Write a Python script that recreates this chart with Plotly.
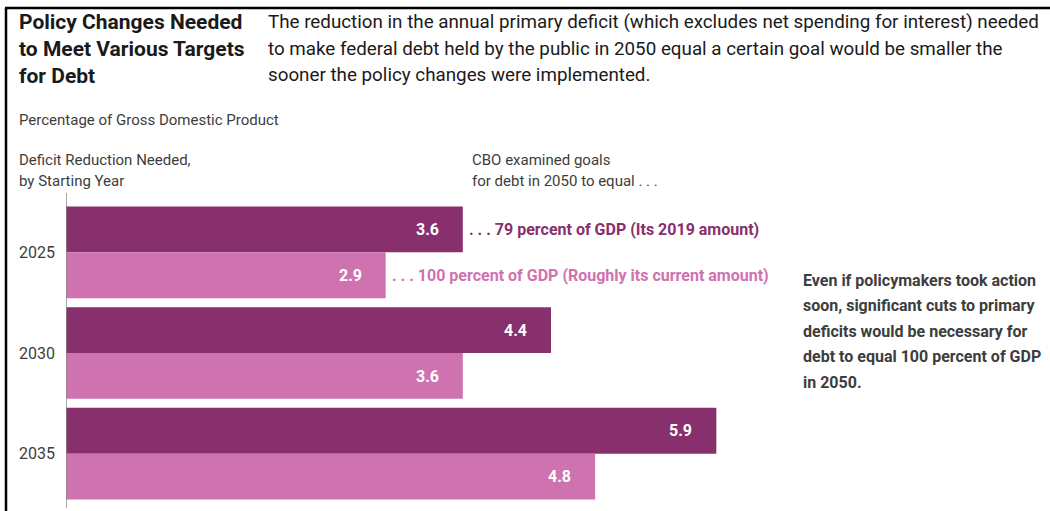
import plotly.graph_objects as go

# Data: deficit reduction needed (percentage of GDP), by starting year
years = ["2025", "2030", "2035"]
goal_79 = [3.6, 4.4, 5.9]    # debt in 2050 equal to 79 percent of GDP
goal_100 = [2.9, 3.6, 4.8]   # debt in 2050 equal to 100 percent of GDP

DARK = "#87306d"
LIGHT = "#cf72b0"
TEXT = "#3d3d3d"
FONT = "Roboto, Arial, sans-serif"

W, H = 1050, 511
ML, MR, MT, MB = 66, 14, 202, 7
pw, ph = W - ML - MR, H - MT - MB


def px(x):
    """Horizontal pixel position -> paper fraction."""
    return (x - ML) / pw


def py(y):
    """Vertical pixel position from the top -> paper fraction."""
    return (H - y - MB) / ph


fig = go.Figure()
fig.add_trace(go.Bar(y=years, x=goal_79, orientation="h", marker=dict(color=DARK, line=dict(width=0)),
                     name="79 percent of GDP", hoverinfo="skip"))
fig.add_trace(go.Bar(y=years, x=goal_100, orientation="h", marker=dict(color=LIGHT, line=dict(width=0)),
                     name="100 percent of GDP", hoverinfo="skip"))

annotations = []
# value labels inside the bar ends
for i, (a, b) in enumerate(zip(goal_79, goal_100)):
    annotations.append(dict(x=a, y=i, xref="x", yref="y", text=f"<b>{a:.1f}</b>", showarrow=False,
                            xanchor="right", xshift=-22, yshift=23,
                            font=dict(family=FONT, size=16, color="white")))
    annotations.append(dict(x=b, y=i, xref="x", yref="y", text=f"<b>{b:.1f}</b>", showarrow=False,
                            xanchor="right", xshift=-22, yshift=-23,
                            font=dict(family=FONT, size=16, color="white")))

# goal labels beside the 2025 bars
annotations.append(dict(x=goal_79[0], y=0, xref="x", yref="y", text="<b>. . . 79 percent of GDP (Its 2019 amount)</b>",
                        showarrow=False, xanchor="left", xshift=4, yshift=23,
                        font=dict(family=FONT, size=16, color=DARK)))
annotations.append(dict(x=goal_100[0], y=0, xref="x", yref="y",
                        text="<b>. . . 100 percent of GDP (Roughly its current amount)</b>",
                        showarrow=False, xanchor="left", xshift=4, yshift=-23,
                        font=dict(family=FONT, size=16, color=LIGHT)))


def text_block(x, y, lines, size, color, bold=False, step=None):
    """Left-aligned lines of text; y is the centre of the first line in pixels."""
    step = step or size * 1.3
    out = []
    for k, line in enumerate(lines):
        t = f"<b>{line}</b>" if bold else line
        out.append(dict(x=px(x), y=py(y + k * step), xref="paper", yref="paper", text=t,
                        showarrow=False, xanchor="left", yanchor="middle", align="left",
                        font=dict(family=FONT, size=size, color=color)))
    return out


annotations += text_block(17, 22, ["Policy Changes Needed", "to Meet Various Targets", "for Debt"],
                          21, "#1a1a1a", bold=True, step=27)
annotations += text_block(266, 22, [
    "The reduction in the annual primary deficit (which excludes net spending for interest) needed",
    "to make federal debt held by the public in 2050 equal a certain goal would be smaller the",
    "sooner the policy changes were implemented.",
], 18.8, "#1a1a1a", step=26.5)
annotations += text_block(17, 120, ["Percentage of Gross Domestic Product"], 15, TEXT)
annotations += text_block(17, 160, ["Deficit Reduction Needed,", "by Starting Year"], 15, TEXT, step=21)
annotations += text_block(470, 160, ["CBO examined goals", "for debt in 2050 to equal . . ."], 15, TEXT, step=21)
annotations += text_block(801, 280, [
    "Even if policymakers took action",
    "soon, significant cuts to primary",
    "deficits would be necessary for",
    "debt to equal 100 percent of GDP",
    "in 2050.",
], 16, TEXT, bold=True, step=25.5)

fig.update_layout(
    width=W, height=H,
    margin=dict(l=ML, r=MR, t=MT, b=MB, pad=0),
    barmode="group", bargap=0.09, bargroupgap=0.0,
    plot_bgcolor="white", paper_bgcolor="white",
    showlegend=False,
    annotations=annotations,
    xaxis=dict(range=[0, 8.8], visible=False, fixedrange=True),
    yaxis=dict(autorange="reversed", showgrid=False, zeroline=False, showline=False,
               ticks="", ticklabelstandoff=10,
               tickfont=dict(family=FONT, size=16, color=TEXT)),
    shapes=[
        # vertical baseline at zero
        dict(type="line", xref="x", yref="paper", x0=0, x1=0, y0=py(508), y1=py(193),
             line=dict(color="#8a8a8a", width=1.5)),
        # outer frame: top and left rules
        dict(type="line", xref="paper", yref="paper", x0=px(5), x1=px(W),
             y0=py(8), y1=py(8), line=dict(color="black", width=2.5)),
        dict(type="line", xref="paper", yref="paper", x0=px(6), x1=px(6),
             y0=py(8), y1=py(H), line=dict(color="black", width=2.5)),
    ],
)

fig.write_html("out.html")
